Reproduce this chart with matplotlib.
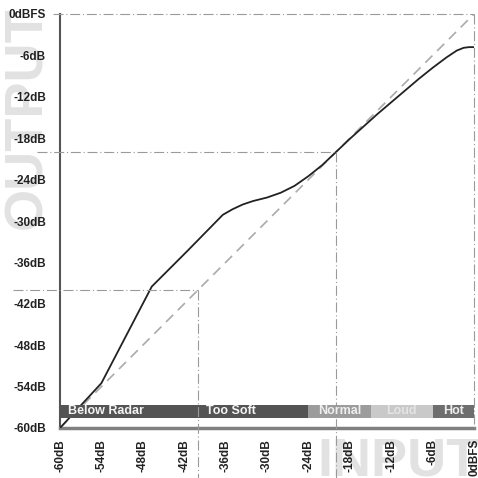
import matplotlib
matplotlib.use("Agg")
import matplotlib.pyplot as plt

# transfer curve (input dB -> output dB)
curve_in = [-60, -54, -46.7, -41.5, -36.4, -35, -33.5, -32, -30, -28, -26, -24, -22, -20,
            -18, -16, -14, -12, -10, -8, -6, -4, -2.5, -1.5, -0.7, 0]
curve_out = [-60, -53.5, -39.5, -34.3, -29.1, -28.3, -27.6, -27.1, -26.6, -25.9, -24.9, -23.5, -21.9, -20,
             -18.1, -16.3, -14.5, -12.8, -11.1, -9.4, -7.8, -6.3, -5.3, -4.9, -4.8, -4.8]

ticks = [-60, -54, -48, -42, -36, -30, -24, -18, -12, -6, 0]
tick_labels = ["-60dB", "-54dB", "-48dB", "-42dB", "-36dB", "-30dB", "-24dB", "-18dB", "-12dB", "-6dB", "0dBFS"]
ytick_labels = ["-60dB", "-54dB", "-48dB", "-42dB", "-36dB", "-30dB", "-24dB", "-18dB", "-12dB", "-6dB", "0dBFS"]

zone_names = ["Below Radar", "Too Soft", "Normal", "Loud", "Hot"]
zone_start = [-60, -40, -24, -15, -6]
zone_end = [-40, -24, -15, -6, 0]
zone_colors = ["#545454", "#545454", "#9c9c9c", "#c9c9c9", "#6e6e6e"]
zone_text = ["#f4f4f4", "#f4f4f4", "#eeeeee", "#e4e4e4", "#eeeeee"]
zone_align = ["left", "left", "center", "center", "center"]

ref_levels = [-40, -20]

FONT = "Liberation Sans"

fig = plt.figure(figsize=(4.78, 4.78), dpi=100)
ax = fig.add_axes([60 / 478, 1 - 428 / 478, 414 / 478, 414 / 478])
ax.patch.set_alpha(0)

ax.set_xlim(-60, 0)
ax.set_ylim(-60, 0)

# watermarks
fig.text(41 / 478, 1 - 118 / 478, "OUTPUT", rotation=90, rotation_mode="anchor",
         ha="center", va="baseline", fontsize=39, fontweight="bold",
         family=FONT, color="#e2e2e2", zorder=-1)
fig.text(317 / 478, 2 / 478, "INPUT", ha="left", va="baseline", fontsize=39,
         fontweight="bold", family=FONT, color="#e2e2e2", zorder=-1)

# unity line
ax.plot([-60, 0], [-60, 0], color="#aaaaaa", lw=1.2, dashes=(6, 4), zorder=2)
# transfer curve
ax.plot(curve_in, curve_out, color="#222222", lw=1.3, zorder=3)

# reference dash-dot lines
dd = (0, (9, 2.5, 1, 2.5))
ax.plot([-61, 0], [0, 0], color="#9a9a9a", lw=0.8, ls=dd, clip_on=False, zorder=4)
ax.plot([0, 0], [0, -60], color="#9a9a9a", lw=0.8, ls=dd, clip_on=False, zorder=4)
left_ext = {-40: -66.8, -20: -63.3}
for lev in ref_levels:
    ax.plot([left_ext[lev], lev], [lev, lev], color="#9a9a9a", lw=0.8, ls=dd,
            clip_on=False, zorder=4)
    ax.plot([lev, lev], [lev, -67.5], color="#9a9a9a", lw=0.8, ls=dd,
            clip_on=False, zorder=6)

# zone bar
widths = [e - s for s, e in zip(zone_start, zone_end)]
ax.bar(zone_start, 1.9, width=widths, bottom=-58.6, align="edge",
       color=zone_colors, edgecolor="none", zorder=5)
for name, s, e, tc, al in zip(zone_names, zone_start, zone_end, zone_text, zone_align):
    xt = s + 1.1 if al == "left" else (s + e) / 2
    ax.text(xt, -57.6, name, ha=al, va="center", fontsize=9, fontweight="bold",
            family=FONT, color=tc, zorder=7)

# axes styling
for side in ["top", "right"]:
    ax.spines[side].set_visible(False)
ax.spines["left"].set_color("#555555")
ax.spines["left"].set_linewidth(1.5)
ax.spines["bottom"].set_color("#808080")
ax.spines["bottom"].set_linewidth(2.5)

ax.set_xticks(ticks)
ax.set_xticklabels(tick_labels, rotation=90, fontsize=8.5, fontweight="bold", family=FONT)
ax.set_yticks(ticks)
ax.set_yticklabels(ytick_labels, fontsize=8.5, fontweight="bold", family=FONT)
ax.tick_params(axis="both", length=0, colors="#222222")
ax.tick_params(axis="x", pad=8)
ax.tick_params(axis="y", pad=10)

fig.savefig("out.png", dpi=100)
